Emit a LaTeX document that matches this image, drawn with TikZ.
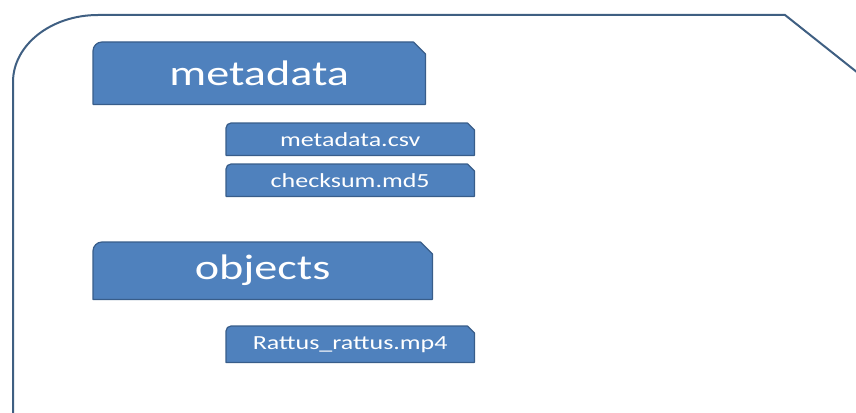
\documentclass[tikz,border=0pt]{standalone}
\usepackage{fontspec}
\newfontfamily\boxfont[FakeStretch=1.3]{Carlito}
\usetikzlibrary{calc,backgrounds}
\definecolor{boxfill}{HTML}{4F81BD}
\definecolor{boxline}{HTML}{385D8A}
\definecolor{frameline}{HTML}{3F5F82}
\tikzset{
  bigbox/.style={anchor=north west,inner sep=0pt,text=white,font=\boxfont\fontsize{35.5}{40}\selectfont},
  smallbox/.style={anchor=north west,inner sep=0pt,text=white,font=\boxfont\fontsize{20}{23}\selectfont},
  shapeline/.style={fill=boxfill,draw=boxline,line width=1.2pt,line join=round},
  frame/.style={draw=frameline,line width=2pt}
}
\newcommand{\snipshape}[3]{%
  \begin{pgfonlayer}{background}
  \draw[shapeline] (#1.south west) [rounded corners=#2pt] -- (#1.north west) [sharp corners]
    -- ($(#1.north east)+(-#3,0)$) -- ($(#1.north east)+(0,#3)$) -- (#1.south east) -- cycle;
  \end{pgfonlayer}}
\begin{document}
\begin{tikzpicture}[x=1pt,y=-1pt]
\useasboundingbox (0,0) rectangle (856,412);
% outer frame
\coordinate (fb) at (13,414);
\coordinate (fr) at (785,15);
\coordinate (fe) at (858,73);
\draw[frame] (fb) -- (13,82) arc[start angle=180,end angle=270,x radius=85,y radius=67] -- (fr) -- (fe);
% boxes
\node[bigbox,minimum width=332pt,minimum height=62pt] (meta) at (93,42) {metadata};
\snipshape{meta}{9}{12}
\node[smallbox,minimum width=248pt,minimum height=32pt] (csv) at (226,123) {metadata.csv};
\snipshape{csv}{5}{7}
\node[smallbox,minimum width=248pt,minimum height=32pt] (md5) at (226,164) {checksum.md5};
\snipshape{md5}{5}{7}
\node[bigbox,minimum width=339pt,minimum height=57pt] (obj) at (93,242) {objects};
\snipshape{obj}{9}{12}
\node[smallbox,minimum width=248pt,minimum height=36pt] (rat) at (226,326) {Rattus\_rattus.mp4};
\snipshape{rat}{5}{7}
\end{tikzpicture}
\end{document}
